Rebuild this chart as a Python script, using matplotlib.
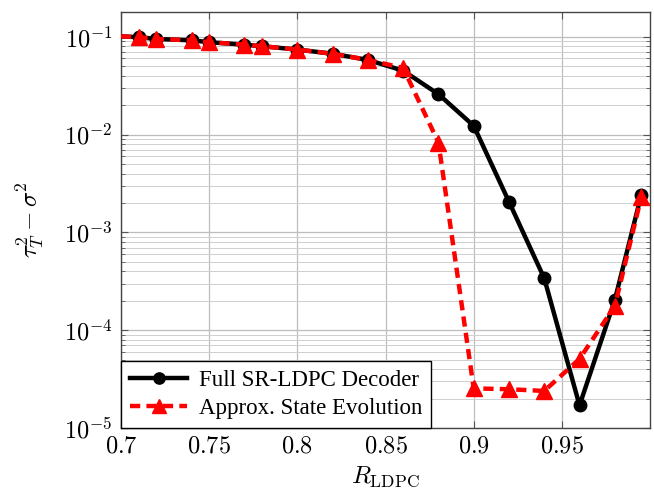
import numpy as np
import matplotlib
matplotlib.use("Agg")
import matplotlib.pyplot as plt
from matplotlib.ticker import FixedLocator, FuncFormatter, LogLocator, NullFormatter

plt.rcParams["mathtext.fontset"] = "cm"
plt.rcParams["font.family"] = ["Liberation Serif", "DejaVu Serif"]

# data
rate_full = [0.70, 0.71, 0.72, 0.74, 0.75, 0.77, 0.78, 0.80, 0.82, 0.84, 0.86,
             0.88, 0.90, 0.92, 0.94, 0.96, 0.98, 0.995]
mse_full = [0.101, 0.099, 0.095, 0.092, 0.088, 0.083, 0.080, 0.074, 0.067, 0.058, 0.045,
            0.0259, 0.0123, 0.00206, 3.4e-4, 1.71e-5, 2.04e-4, 2.42e-3]

rate_se = [0.70, 0.71, 0.72, 0.74, 0.75, 0.77, 0.78, 0.80, 0.82, 0.84, 0.86,
           0.88, 0.90, 0.92, 0.94, 0.96, 0.98, 0.995]
mse_se = [0.101, 0.099, 0.095, 0.092, 0.088, 0.083, 0.080, 0.074, 0.067, 0.058, 0.048,
          8.3e-3, 2.55e-5, 2.5e-5, 2.4e-5, 5.1e-5, 1.77e-4, 2.3e-3]

xticks = [0.7, 0.75, 0.8, 0.85, 0.9, 0.95]
xtick_labels = ["0.7", "0.75", "0.8", "0.85", "0.9", "0.95"]

fig = plt.figure(figsize=(6.54, 4.91), dpi=100)
ax = fig.add_axes([0.185, 0.128, 0.809, 0.848])

# first point sits on the axis edge: line only, no marker (clipped in the original)
ax.plot(rate_full, mse_full, color="black", linewidth=3.2, marker="o", markersize=9,
        markevery=list(range(1, len(rate_full))), label="Full SR-LDPC Decoder", zorder=3)
ax.plot(rate_se, mse_se, color="red", linewidth=3.2, linestyle=(0, (2.3, 1.4)), marker="^",
        markersize=11, markevery=list(range(1, len(rate_se))),
        label="Approx. State Evolution", zorder=4)

ax.set_yscale("log")
ax.set_xlim(0.7, 1.0)
ax.set_ylim(1e-5, 0.18)

ax.xaxis.set_major_locator(FixedLocator(xticks))
ax.set_xticklabels(["$" + t + "$" for t in xtick_labels])
ax.yaxis.set_major_locator(LogLocator(base=10, numticks=10))
ax.yaxis.set_major_formatter(FuncFormatter(lambda v, p: "$10^{%d}$" % round(np.log10(v))))
ax.yaxis.set_minor_locator(LogLocator(base=10, subs=np.arange(2, 10), numticks=20))
ax.yaxis.set_minor_formatter(NullFormatter())

ax.grid(True, which="major", color="#bdbdbd", linewidth=0.9)
ax.grid(True, which="minor", axis="y", color="#cfcfcf", linewidth=0.7)
ax.set_axisbelow(True)

ax.tick_params(which="both", direction="in", top=True, right=True, labelsize=17.5, color="#555555")
ax.tick_params(which="major", length=5, pad=6)
ax.tick_params(which="minor", length=3)
for sp in ax.spines.values():
    sp.set_color("#444444")
    sp.set_linewidth(1.0)

ax.set_xlabel(r"$R_{\mathrm{LDPC}}$", fontsize=18, labelpad=5)
ax.set_ylabel(r"$\tau_T^2-\sigma^2$", fontsize=18, labelpad=12)

leg = ax.legend(loc="lower left", borderaxespad=0, fancybox=False, framealpha=1,
                edgecolor="black", fontsize=16.5, handlelength=2.5, borderpad=0.4,
                labelspacing=0.3, handletextpad=0.5, markerscale=0.9)
leg.get_frame().set_linewidth(1.0)

fig.savefig("out.png", dpi=100)
